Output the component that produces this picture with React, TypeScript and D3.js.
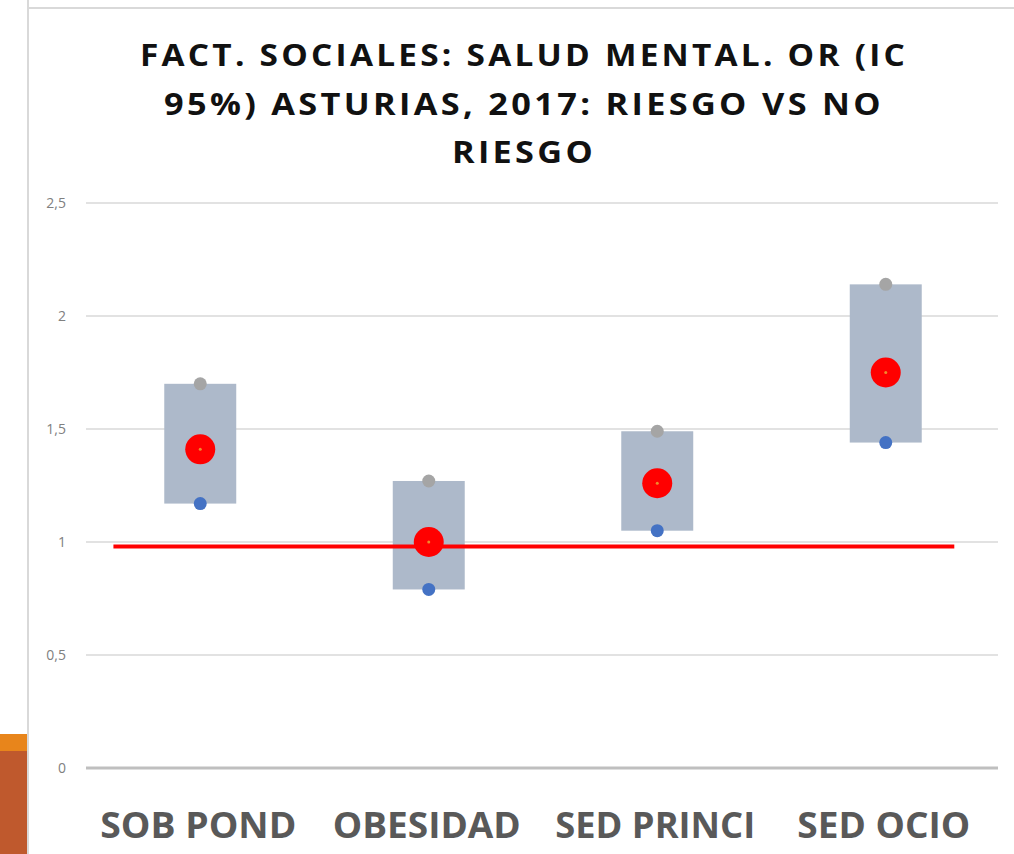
import React from "react";
import * as d3 from "d3";

// values
const categories = ["SOB POND", "OBESIDAD", "SED PRINCI", "SED OCIO"];
const upperCI = [1.7, 1.27, 1.49, 2.14];
const oddsRatio = [1.41, 1.0, 1.26, 1.75];
const lowerCI = [1.17, 0.79, 1.05, 1.44];
const yTicks = [0, 0.5, 1, 1.5, 2, 2.5];
const referenceValue = 0.98;
const titleLines = [
  "FACT. SOCIALES: SALUD MENTAL. OR (IC",
  "95%) ASTURIAS, 2017: RIESGO VS NO",
  "RIESGO",
];

const W = 1014;
const H = 854;
const margin = { left: 86, right: 14, top: 203, bottom: 86 };

export default function App() {
  const x = d3
    .scaleBand<string>()
    .domain(categories)
    .range([margin.left, W - margin.right]);
  const y = d3
    .scaleLinear()
    .domain([0, 2.5])
    .range([H - margin.bottom, margin.top]);

  const fmt = (v: number) => String(v).replace(".", ",");
  const bw = x.bandwidth();
  const boxW = bw * 0.315;
  const cx = (c: string) => (x(c) as number) + bw / 2;

  // red reference line across the plot
  const refStart = (x(categories[0]) as number) + bw * 0.12;
  const refEnd = (x(categories[categories.length - 1]) as number) + bw * 0.8;

  const titleWidths = [768, 720, 144];
  const labelWidths = [196, 188, 200, 173];

  return (
    <div style={{ position: "absolute", left: 0, top: 0 }}>
      <svg width={W} height={H} style={{ display: "block", background: "#fff" }}>
        {/* slide frame bits */}
        <line x1={28} x2={W} y1={8} y2={8} stroke="#d9d9d9" strokeWidth={2} />
        <line x1={28} x2={28} y1={0} y2={H} stroke="#d9d9d9" strokeWidth={2} />
        <rect x={0} y={734} width={27} height={17} fill="#e8851b" />
        <rect x={0} y={751} width={27} height={H - 751} fill="#bf592d" />

        {/* title */}
        {titleLines.map((t, i) => (
          <text
            key={t}
            x={524}
            y={66 + i * 48.5}
            textAnchor="middle"
            fontFamily="'Open Sans', sans-serif"
            fontWeight={700}
            fontSize={31}
            letterSpacing={3}
            fill="#111"
            textLength={titleWidths[i]}
            lengthAdjust="spacingAndGlyphs"
          >
            {t}
          </text>
        ))}

        {/* grid + y labels */}
        {yTicks.map((t) => (
          <g key={t}>
            <line
              x1={margin.left}
              x2={W - margin.right - 2}
              y1={y(t)}
              y2={y(t)}
              stroke={t === 0 ? "#bfbfbf" : "#d9d9d9"}
              strokeWidth={t === 0 ? 3 : 1.5}
            />
            <text
              x={66}
              y={y(t) + 5}
              textAnchor="end"
              fontFamily="'Open Sans', sans-serif"
              fontSize={14}
              fill="#808080"
            >
              {fmt(t)}
            </text>
          </g>
        ))}

        {/* CI boxes */}
        {categories.map((c, i) => (
          <rect
            key={c}
            x={cx(c) - boxW / 2}
            y={y(upperCI[i])}
            width={boxW}
            height={y(lowerCI[i]) - y(upperCI[i])}
            fill="#adb9ca"
          />
        ))}

        <line
          x1={refStart}
          x2={refEnd}
          y1={y(referenceValue)}
          y2={y(referenceValue)}
          stroke="#ff0000"
          strokeWidth={4}
        />

        {/* markers */}
        {categories.map((c, i) => (
          <g key={c}>
            <circle cx={cx(c)} cy={y(upperCI[i])} r={6.5} fill="#a5a5a5" />
            <circle cx={cx(c)} cy={y(lowerCI[i])} r={6.5} fill="#4472c4" />
            <circle cx={cx(c)} cy={y(oddsRatio[i])} r={15} fill="#ff0000" />
            <circle cx={cx(c)} cy={y(oddsRatio[i])} r={1.5} fill="#f08a2c" />
          </g>
        ))}

        {/* category labels */}
        {categories.map((c, i) => (
          <text
            key={c}
            x={cx(c) - 2}
            y={838}
            textAnchor="middle"
            fontFamily="'Open Sans', sans-serif"
            fontWeight={700}
            fontSize={36}
            fill="#595959"
            textLength={labelWidths[i]}
            lengthAdjust="spacingAndGlyphs"
          >
            {c}
          </text>
        ))}
      </svg>
    </div>
  );
}
